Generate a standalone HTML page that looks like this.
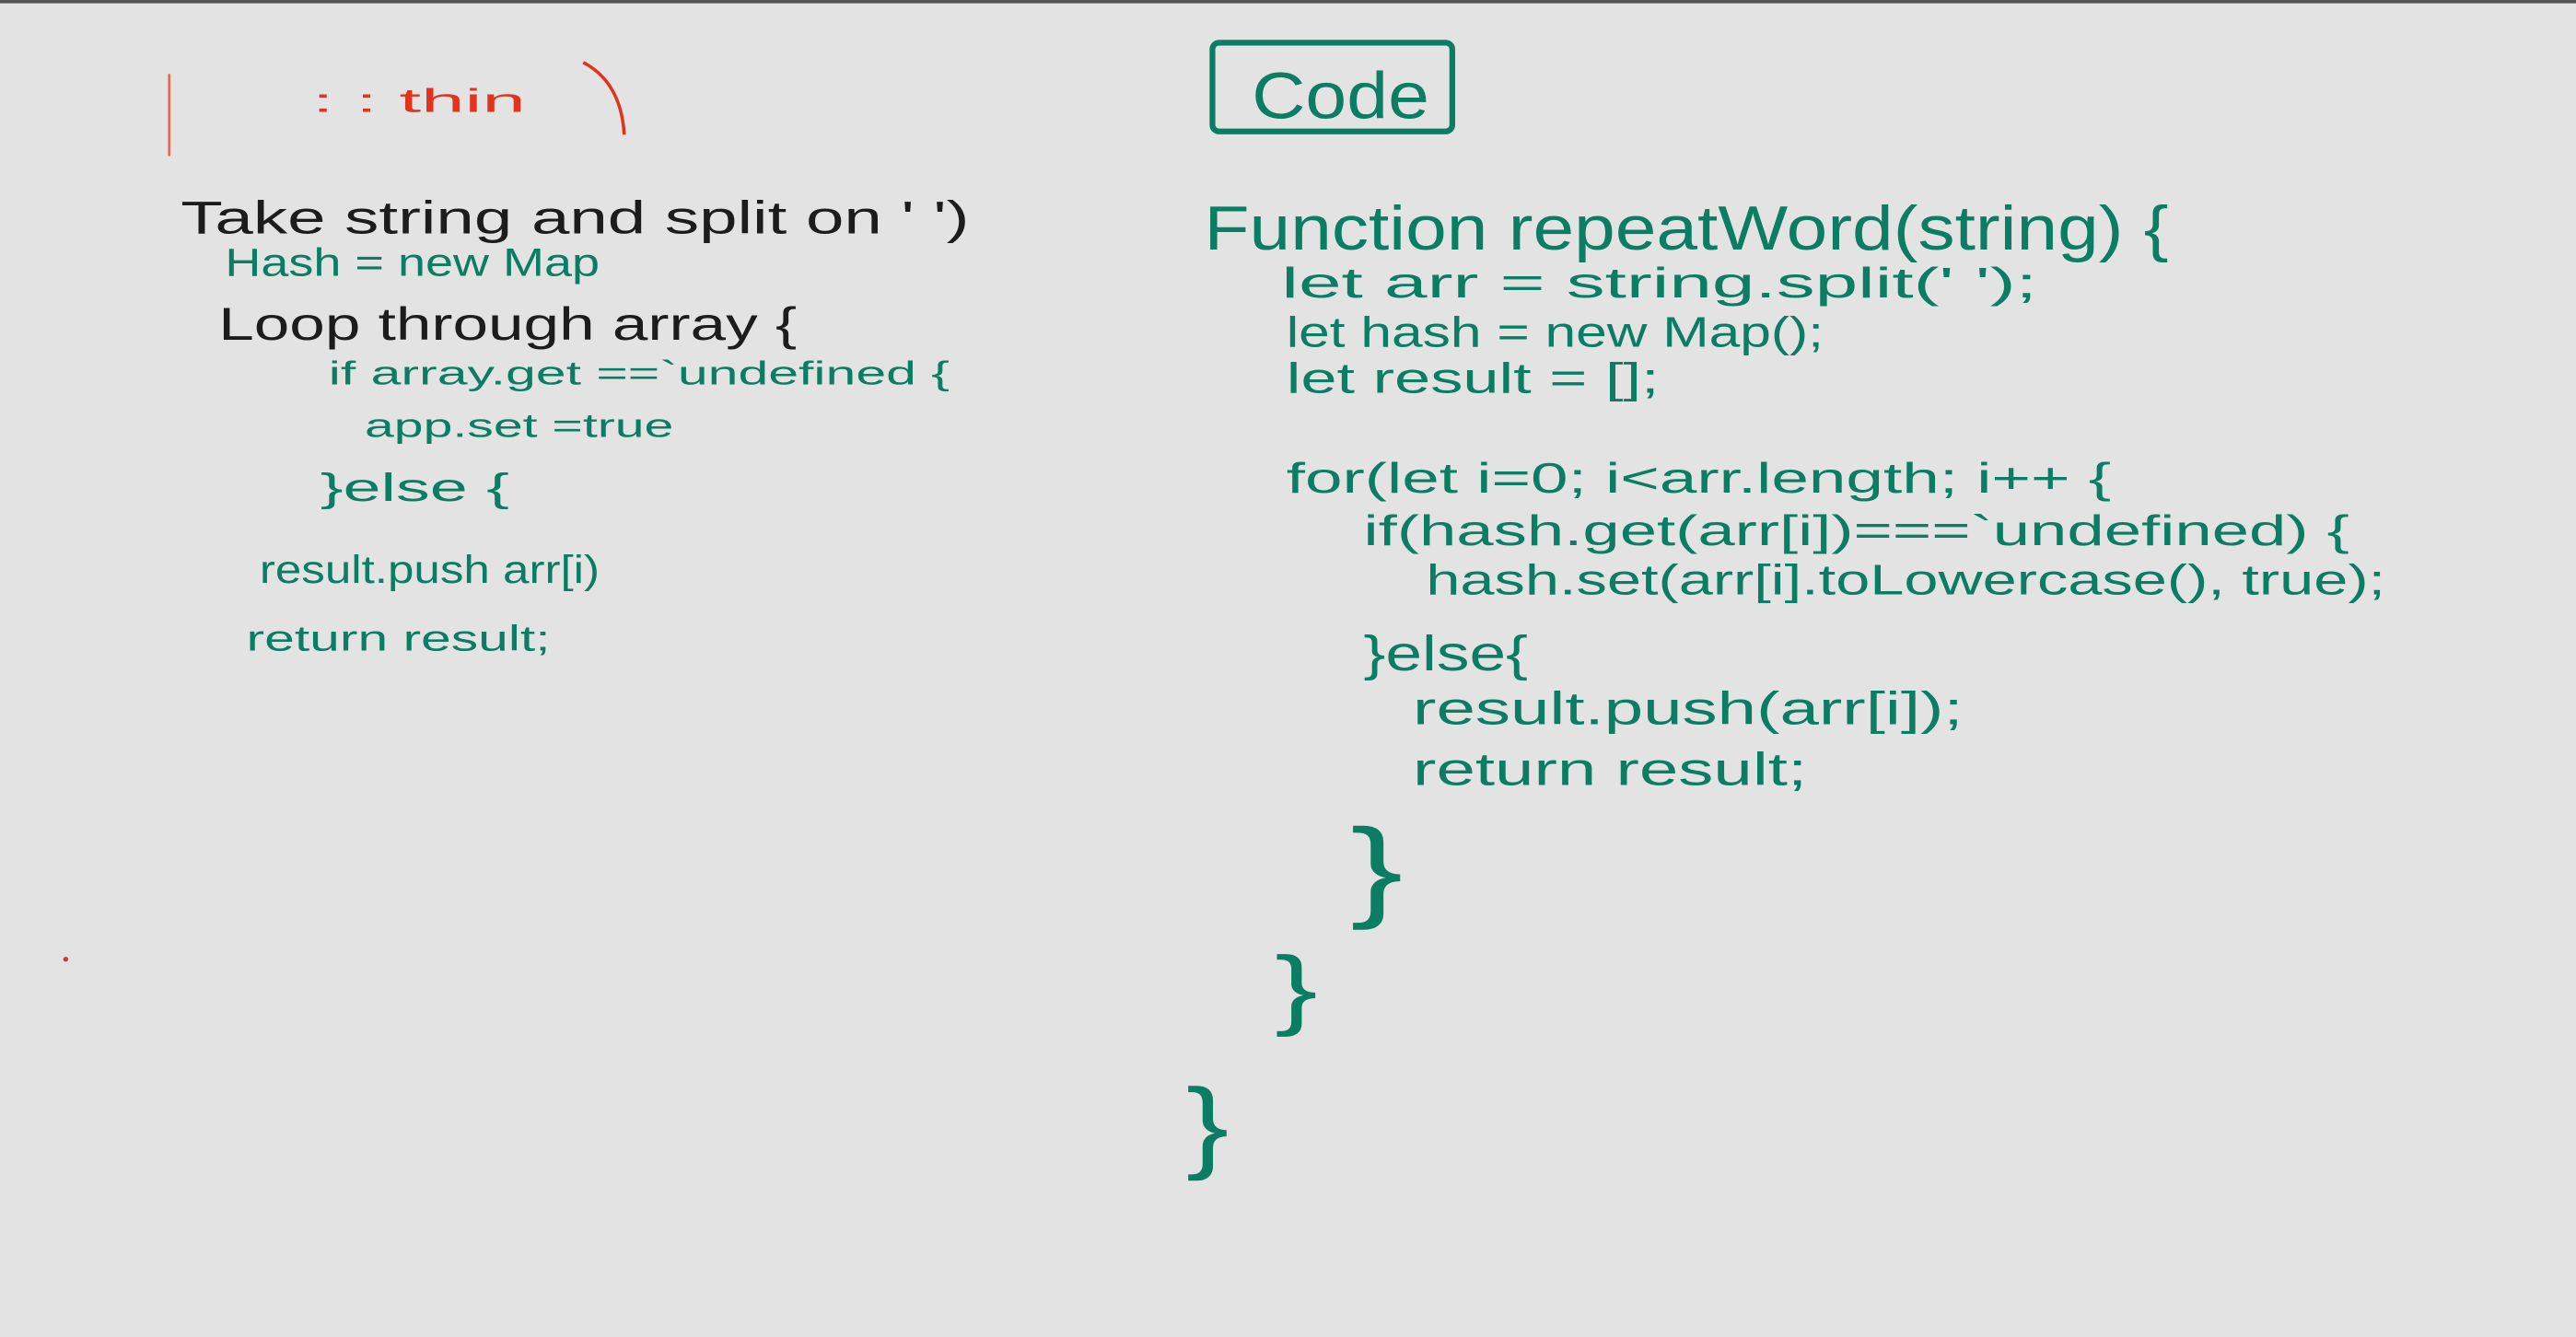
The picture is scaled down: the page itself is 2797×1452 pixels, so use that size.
<!DOCTYPE html>
<html><head><meta charset="utf-8"><style>
html,body{margin:0;padding:0;background:#e3e3e3;}
svg{display:block;}
text{font-family:"Liberation Sans",sans-serif;}
.g{fill:#0a7d62;}
.k{fill:#1c1c1c;}
</style></head><body>
<svg width="2797" height="1452" viewBox="0 0 1568 814" preserveAspectRatio="none" xmlns="http://www.w3.org/2000/svg">
<rect width="1568" height="814" fill="#e3e3e3"/>
<rect width="1568" height="2" fill="#555"/>
<!-- red note -->
<path d="M103 45 L103 95" stroke="#e86a50" stroke-width="1.5" fill="none"/>
<path d="M355 38 Q378 50 380 82" stroke="#e0341c" stroke-width="2" fill="none"/>
<text x="190" y="68" font-size="20" fill="#e0341c" textLength="130" lengthAdjust="spacingAndGlyphs">:  : thin</text>
<!-- left column -->
<text class="k" x="110" y="142" font-size="28" textLength="480" lengthAdjust="spacingAndGlyphs">Take string and split on ' ')</text>
<text class="g" x="137" y="168" font-size="24" textLength="228" lengthAdjust="spacingAndGlyphs">Hash = new Map</text>
<text class="k" x="133" y="207" font-size="28" textLength="352" lengthAdjust="spacingAndGlyphs">Loop through array {</text>
<text class="g" x="200" y="234" font-size="20" textLength="378" lengthAdjust="spacingAndGlyphs">if array.get ==`undefined {</text>
<text class="g" x="222" y="266" font-size="20" textLength="188" lengthAdjust="spacingAndGlyphs">app.set =true</text>
<text class="g" x="195" y="305" font-size="24" textLength="115" lengthAdjust="spacingAndGlyphs">}else {</text>
<text class="g" x="158" y="355" font-size="24" textLength="207" lengthAdjust="spacingAndGlyphs">result.push arr[i)</text>
<text class="g" x="150" y="396" font-size="22" textLength="185" lengthAdjust="spacingAndGlyphs">return result;</text>
<!-- Code box -->
<rect x="738" y="26" width="146" height="54" rx="4" fill="none" stroke="#0a7d62" stroke-width="3.5"/>
<text class="g" x="762" y="72" font-size="40" textLength="108" lengthAdjust="spacingAndGlyphs">Code</text>
<!-- right column -->
<text class="g" x="733" y="152" font-size="38" textLength="587" lengthAdjust="spacingAndGlyphs">Function  repeatWord(string) {</text>
<text class="g" x="780" y="181" font-size="26" textLength="460" lengthAdjust="spacingAndGlyphs">let arr = string.split(' ');</text>
<text class="g" x="783" y="211" font-size="26" textLength="327" lengthAdjust="spacingAndGlyphs">let hash = new Map();</text>
<text class="g" x="783" y="239" font-size="26" textLength="227" lengthAdjust="spacingAndGlyphs">let result = [];</text>
<text class="g" x="783" y="300" font-size="26" textLength="502" lengthAdjust="spacingAndGlyphs">for(let i=0; i&lt;arr.length; i++ {</text>
<text class="g" x="830" y="332" font-size="26" textLength="600" lengthAdjust="spacingAndGlyphs">if(hash.get(arr[i])===`undefined) {</text>
<text class="g" x="868" y="362" font-size="26" textLength="584" lengthAdjust="spacingAndGlyphs">hash.set(arr[i].toLowercase(), true);</text>
<text class="g" x="830" y="408" font-size="30" textLength="100" lengthAdjust="spacingAndGlyphs">}else{</text>
<text class="g" x="860" y="441" font-size="28" textLength="335" lengthAdjust="spacingAndGlyphs">result.push(arr[i]);</text>
<text class="g" x="860" y="478" font-size="28" textLength="240" lengthAdjust="spacingAndGlyphs">return result;</text>
<text class="g" x="822" y="552" font-size="68" textLength="32" lengthAdjust="spacingAndGlyphs">}</text>
<text class="g" x="776" y="620" font-size="54" textLength="26" lengthAdjust="spacingAndGlyphs">}</text>
<text class="g" x="722" y="706" font-size="62" textLength="26" lengthAdjust="spacingAndGlyphs">}</text>
<circle cx="40" cy="584" r="1.5" fill="#d33"/>
</svg>
</body></html>
